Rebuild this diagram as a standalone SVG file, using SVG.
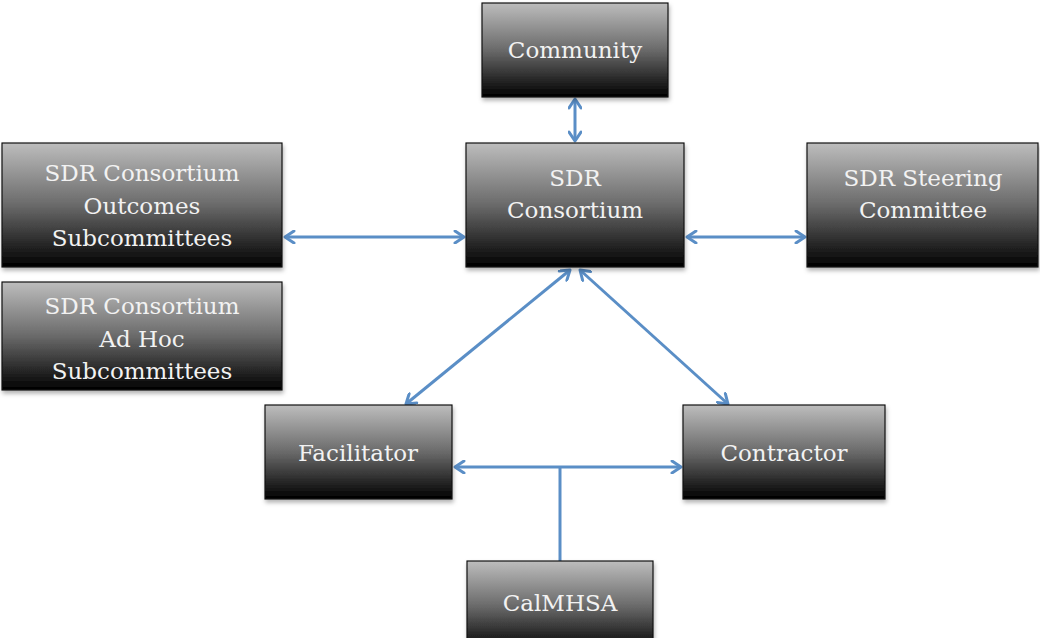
<svg xmlns="http://www.w3.org/2000/svg" width="1040" height="638" viewBox="0 0 1040 638">
<defs>
<linearGradient id="g" x1="0" y1="0" x2="0" y2="1">
<stop offset="0" stop-color="#bdbdbd"/>
<stop offset="0.5" stop-color="#6a6a6a"/>
<stop offset="1" stop-color="#000"/>
</linearGradient>
<filter id="sh" x="-5%" y="-5%" width="115%" height="120%">
<feDropShadow dx="1" dy="3" stdDeviation="2" flood-color="#000" flood-opacity="0.3"/>
</filter>
<marker id="ah" viewBox="0 0 14 14" refX="12" refY="7" markerWidth="14" markerHeight="14" markerUnits="userSpaceOnUse" orient="auto-start-reverse">
<path d="M3 1 L12 7 L3 13" fill="none" stroke="#5a8ec6" stroke-width="3" stroke-linecap="round" stroke-linejoin="round"/>
</marker>
</defs>
<style>
.box{fill:url(#g);stroke:#111;stroke-width:1.2;filter:url(#sh)}
.t{font-family:"DejaVu Serif","Liberation Serif",serif;font-size:23px;fill:#f2f2f2;text-anchor:middle}
.c{stroke:#5a8ec6;stroke-width:3;fill:none}
.a{marker-start:url(#ah);marker-end:url(#ah)}
</style>
<g id="connectors">
<line class="c a" x1="575" y1="99" x2="575" y2="141"/>
<line class="c a" x1="285" y1="237" x2="464" y2="237"/>
<line class="c a" x1="687" y1="237" x2="805" y2="237"/>
<line class="c a" x1="570" y1="270" x2="406" y2="404"/>
<line class="c a" x1="580" y1="270" x2="728" y2="404"/>
<line class="c a" x1="455" y1="467" x2="681" y2="467"/>
<line class="c" x1="560" y1="467" x2="560" y2="561"/>
</g>
<g id="community"><rect class="box" x="482" y="3" width="186" height="94"/><text class="t" x="575" y="58">Community</text></g>
<g id="consortium"><rect class="box" x="466" y="143" width="218" height="124"/><text class="t" x="575" y="186">SDR</text><text class="t" x="575" y="218">Consortium</text></g>
<g id="outcomes"><rect class="box" x="2" y="143" width="280" height="124"/><text class="t" x="142" y="181">SDR Consortium</text><text class="t" x="142" y="214">Outcomes</text><text class="t" x="142" y="246">Subcommittees</text></g>
<g id="adhoc"><rect class="box" x="2" y="282" width="280" height="108"/><text class="t" x="142" y="314">SDR Consortium</text><text class="t" x="142" y="347">Ad Hoc</text><text class="t" x="142" y="379">Subcommittees</text></g>
<g id="steering"><rect class="box" x="807" y="143" width="231" height="124"/><text class="t" x="923" y="186">SDR Steering</text><text class="t" x="923" y="218">Committee</text></g>
<g id="facilitator"><rect class="box" x="265" y="405" width="187" height="94"/><text class="t" x="358" y="461">Facilitator</text></g>
<g id="contractor"><rect class="box" x="683" y="405" width="202" height="94"/><text class="t" x="784" y="461">Contractor</text></g>
<g id="calmhsa"><rect class="box" x="467" y="561" width="186" height="90"/><text class="t" x="560" y="611">CalMHSA</text></g>
</svg>
